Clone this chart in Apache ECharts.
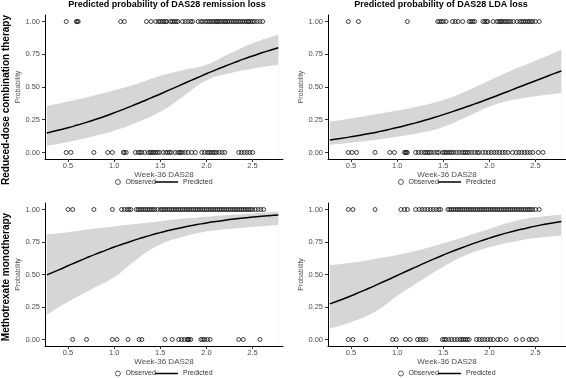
<!DOCTYPE html>
<html lang="en">
<head>
    <meta charset="UTF-8">
    <title>Predicted probability of DAS28 loss</title>
    <script src="https://cdn.jsdelivr.net/npm/echarts@6.0.0/dist/echarts.min.js"></script>
    <style>
        html, body { margin: 0; padding: 0; background: #fff; }
        #chart { width: 566px; height: 378px; }
    </style>
</head>
<body>
    <div id="chart"></div>

    <script>
        const fitX = [0.27, 0.4, 0.5, 0.6, 0.7, 0.8, 0.9, 1.0, 1.1, 1.2, 1.3, 1.4, 1.5, 1.6, 1.7, 1.8, 1.9, 2.0, 2.1, 2.2, 2.3, 2.4, 2.5, 2.6, 2.7, 2.78];
        const bandX = [0.27, 0.5, 0.75, 1.0, 1.25, 1.5, 1.75, 2.0, 2.25, 2.5, 2.78];

        // reduced-dose combination therapy, remission loss
        const remCombFit = [0.148, 0.171, 0.189, 0.209, 0.230, 0.253, 0.277, 0.303, 0.329, 0.358, 0.387, 0.417, 0.447, 0.478, 0.509, 0.540, 0.571, 0.601, 0.631, 0.659, 0.686, 0.713, 0.737, 0.761, 0.783, 0.800];
        const remCombLo = [0.05, 0.08, 0.12, 0.165, 0.23, 0.31, 0.43, 0.55, 0.605, 0.64, 0.67];
        const remCombHi = [0.356, 0.39, 0.43, 0.475, 0.525, 0.585, 0.63, 0.67, 0.755, 0.835, 0.90];
        const remCombLost = [0.48, 0.59, 0.60, 0.61, 1.07, 1.11, 1.35, 1.40, 1.45, 1.48, 1.50, 1.52, 1.54, 1.56, 1.57, 1.61, 1.63, 1.65, 1.67, 1.69, 1.74, 1.77, 1.80, 1.83, 1.85, 1.91, 1.94, 1.96, 1.99, 2.01, 2.03, 2.05, 2.07, 2.09, 2.11, 2.12, 2.14, 2.16, 2.18, 2.20, 2.21, 2.23, 2.25, 2.27, 2.29, 2.31, 2.33, 2.35, 2.37, 2.39, 2.41, 2.43, 2.45, 2.46, 2.48, 2.50, 2.52, 2.55, 2.58, 2.61];
        const remCombKept = [0.48, 0.53, 0.78, 0.93, 0.98, 1.10, 1.11, 1.13, 1.23, 1.26, 1.28, 1.30, 1.33, 1.37, 1.39, 1.40, 1.42, 1.43, 1.45, 1.47, 1.49, 1.53, 1.56, 1.58, 1.60, 1.62, 1.66, 1.69, 1.71, 1.72, 1.74, 1.77, 1.80, 1.84, 1.88, 1.95, 1.98, 2.01, 2.03, 2.05, 2.07, 2.09, 2.11, 2.14, 2.17, 2.20, 2.35, 2.38, 2.41, 2.44, 2.47, 2.50];

        // reduced-dose combination therapy, LDA loss
        const ldaCombFit = [0.096, 0.109, 0.120, 0.132, 0.145, 0.159, 0.174, 0.190, 0.208, 0.226, 0.246, 0.267, 0.289, 0.312, 0.336, 0.361, 0.386, 0.412, 0.439, 0.466, 0.494, 0.521, 0.548, 0.575, 0.602, 0.622];
        const ldaCombLo = [0.058, 0.075, 0.095, 0.12, 0.15, 0.195, 0.27, 0.35, 0.40, 0.43, 0.455];
        const ldaCombHi = [0.237, 0.26, 0.29, 0.32, 0.355, 0.40, 0.47, 0.55, 0.63, 0.70, 0.785];
        const ldaCombLost = [0.47, 0.58, 1.11, 1.44, 1.46, 1.48, 1.50, 1.53, 1.60, 1.63, 1.66, 1.71, 1.78, 1.80, 1.82, 1.84, 1.93, 1.95, 1.97, 1.98, 2.04, 2.08, 2.10, 2.12, 2.13, 2.15, 2.17, 2.19, 2.21, 2.23, 2.26, 2.30, 2.33, 2.35, 2.37, 2.39, 2.41, 2.43, 2.45, 2.47, 2.50, 2.54];
        const ldaCombKept = [0.47, 0.51, 0.56, 0.76, 0.92, 0.97, 1.08, 1.09, 1.10, 1.11, 1.20, 1.23, 1.26, 1.29, 1.31, 1.33, 1.35, 1.37, 1.40, 1.43, 1.45, 1.49, 1.51, 1.53, 1.55, 1.57, 1.59, 1.61, 1.64, 1.67, 1.70, 1.72, 1.74, 1.76, 1.78, 1.81, 1.84, 1.87, 1.89, 1.93, 1.96, 1.99, 2.02, 2.05, 2.08, 2.11, 2.14, 2.17, 2.20, 2.25, 2.29, 2.32, 2.35, 2.38, 2.41, 2.44, 2.47, 2.53, 2.58];

        // methotrexate monotherapy, remission loss
        const remMtxFit = [0.497, 0.536, 0.567, 0.598, 0.628, 0.657, 0.684, 0.711, 0.736, 0.760, 0.782, 0.803, 0.822, 0.840, 0.856, 0.871, 0.884, 0.897, 0.908, 0.918, 0.927, 0.935, 0.942, 0.949, 0.954, 0.958];
        const remMtxLo = [0.19, 0.29, 0.385, 0.48, 0.62, 0.73, 0.79, 0.83, 0.85, 0.865, 0.88];
        const remMtxHi = [0.81, 0.825, 0.85, 0.87, 0.89, 0.91, 0.93, 0.945, 0.958, 0.97, 0.985];
        const remMtxLost = [0.50, 0.55, 0.78, 0.98, 1.08, 1.11, 1.14, 1.16, 1.18, 1.24, 1.26, 1.28, 1.30, 1.32, 1.34, 1.36, 1.38, 1.40, 1.42, 1.44, 1.47, 1.50, 1.52, 1.54, 1.56, 1.58, 1.60, 1.62, 1.64, 1.66, 1.68, 1.70, 1.72, 1.74, 1.76, 1.78, 1.80, 1.82, 1.84, 1.86, 1.88, 1.90, 1.92, 1.94, 1.96, 1.98, 2.00, 2.02, 2.04, 2.06, 2.08, 2.10, 2.12, 2.14, 2.16, 2.18, 2.20, 2.22, 2.24, 2.26, 2.28, 2.30, 2.32, 2.34, 2.36, 2.38, 2.40, 2.42, 2.44, 2.46, 2.48, 2.50, 2.53, 2.56, 2.59, 2.62];
        const remMtxKept = [0.55, 0.70, 0.98, 1.03, 1.15, 1.27, 1.30, 1.55, 1.63, 1.70, 1.73, 1.76, 1.79, 1.80, 1.81, 1.83, 1.94, 1.96, 1.98, 2.01, 2.04, 2.35, 2.40, 2.58];

        // methotrexate monotherapy, LDA loss
        const ldaMtxFit = [0.274, 0.308, 0.336, 0.366, 0.396, 0.428, 0.460, 0.492, 0.525, 0.557, 0.589, 0.620, 0.650, 0.679, 0.706, 0.732, 0.757, 0.780, 0.802, 0.822, 0.840, 0.856, 0.872, 0.886, 0.898, 0.907];
        const ldaMtxLo = [0.085, 0.135, 0.21, 0.335, 0.45, 0.56, 0.65, 0.71, 0.75, 0.78, 0.80];
        const ldaMtxHi = [0.572, 0.59, 0.62, 0.65, 0.69, 0.74, 0.795, 0.85, 0.905, 0.94, 0.96];
        const ldaMtxLost = [0.47, 0.52, 0.76, 1.04, 1.08, 1.11, 1.20, 1.24, 1.27, 1.30, 1.33, 1.36, 1.39, 1.42, 1.45, 1.47, 1.55, 1.57, 1.59, 1.61, 1.63, 1.65, 1.67, 1.69, 1.71, 1.73, 1.75, 1.77, 1.79, 1.81, 1.83, 1.85, 1.87, 1.89, 1.91, 1.93, 1.95, 1.97, 1.99, 2.01, 2.03, 2.05, 2.07, 2.09, 2.11, 2.13, 2.15, 2.17, 2.19, 2.21, 2.23, 2.25, 2.27, 2.29, 2.31, 2.33, 2.35, 2.37, 2.39, 2.41, 2.43, 2.45, 2.47, 2.50, 2.54];
        const ldaMtxKept = [0.47, 0.52, 0.66, 0.95, 0.99, 1.09, 1.14, 1.22, 1.25, 1.28, 1.31, 1.49, 1.51, 1.53, 1.56, 1.59, 1.62, 1.65, 1.68, 1.70, 1.72, 1.74, 1.76, 1.78, 1.86, 1.89, 1.92, 1.95, 1.98, 2.01, 2.04, 2.09, 2.12, 2.18, 2.29, 2.36, 2.43, 2.46, 2.51];

        const xTicks = [0.5, 1.0, 1.5, 2.0, 2.5];
        const yTicks = [0, 0.25, 0.5, 0.75, 1];

        const panels = [
            { fit: remCombFit, lo: remCombLo, hi: remCombHi, lost: remCombLost, kept: remCombKept },
            { fit: ldaCombFit, lo: ldaCombLo, hi: ldaCombHi, lost: ldaCombLost, kept: ldaCombKept },
            { fit: remMtxFit, lo: remMtxLo, hi: remMtxHi, lost: remMtxLost, kept: remMtxKept },
            { fit: ldaMtxFit, lo: ldaMtxLo, hi: ldaMtxHi, lost: ldaMtxLost, kept: ldaMtxKept }
        ];

        const FONT = 'Liberation Sans, Arial, Helvetica, sans-serif';
        const grids = [
            { left: 45, top: 15, width: 238, height: 144 },
            { left: 328, top: 15, width: 238, height: 144 },
            { left: 45, top: 203, width: 238, height: 143 },
            { left: 328, top: 203, width: 238, height: 143 }
        ];

        const xAxes = grids.map((g, i) => ({
            gridIndex: i, type: 'value', min: 0.25, max: 2.83, z: 10,
            name: 'Week-36 DAS28', nameLocation: 'middle', nameGap: 10,
            nameTextStyle: { fontSize: 8, color: '#4d4d4d', fontFamily: FONT },
            axisLine: { show: true, onZero: false, lineStyle: { color: '#000', width: 1 } },
            axisTick: { show: true, length: 3, customValues: xTicks, lineStyle: { color: '#333' } },
            axisLabel: { customValues: xTicks, fontSize: 7.5, color: '#4d4d4d', margin: 3, fontFamily: FONT,
                         formatter: v => v.toFixed(1) },
            splitLine: { show: false }
        }));

        const yAxes = grids.map((g, i) => ({
            gridIndex: i, type: 'value', min: -0.05, max: 1.05, z: 10,
            name: 'Probability', nameLocation: 'middle', nameGap: 17, nameRotate: 90,
            nameTextStyle: { fontSize: 7, color: '#4d4d4d', fontFamily: FONT },
            axisLine: { show: true, onZero: false, lineStyle: { color: '#000', width: 1 } },
            axisTick: { show: true, length: 3, customValues: yTicks, lineStyle: { color: '#333' } },
            axisLabel: { customValues: yTicks, fontSize: 7.5, color: '#4d4d4d', margin: 5, fontFamily: FONT,
                         formatter: v => v.toFixed(2) },
            splitLine: { show: false }
        }));

        const series = [];
        panels.forEach((p, i) => {
            // confidence band: grey down from the upper bound, then white down from the lower bound
            series.push({
                name: 'bandHi', type: 'line', xAxisIndex: i, yAxisIndex: i, z: 1,
                smooth: true, symbol: 'none', silent: true,
                lineStyle: { width: 0, opacity: 0 },
                areaStyle: { color: '#d6d6d6', opacity: 1, origin: 'start' },
                data: bandX.map((x, k) => [x, p.hi[k]])
            });
            series.push({
                name: 'bandLo', type: 'line', xAxisIndex: i, yAxisIndex: i, z: 1,
                smooth: true, symbol: 'none', silent: true,
                lineStyle: { width: 0, opacity: 0 },
                areaStyle: { color: '#fff', opacity: 1, origin: 'start' },
                data: bandX.map((x, k) => [x, p.lo[k]])
            });
            series.push({
                name: 'Predicted', type: 'line', xAxisIndex: i, yAxisIndex: i, z: 3,
                smooth: true, symbol: 'none',
                lineStyle: { color: '#000', width: 1.5 },
                data: fitX.map((x, k) => [x, p.fit[k]])
            });
            series.push({
                name: 'Observed', type: 'scatter', xAxisIndex: i, yAxisIndex: i, z: 4,
                symbol: 'circle', symbolSize: 4,
                itemStyle: { color: 'transparent', borderColor: '#111', borderWidth: 1 },
                data: p.lost.map(x => [x, 1]).concat(p.kept.map(x => [x, 0]))
            });
        });

        // legend under each panel: circle + "Observed", line + "Predicted"
        const legends = [];
        [[115, 178.5], [398, 178.5], [115, 370], [398, 370]].forEach(([x, y]) => {
            legends.push({
                left: x, top: y, padding: 0, itemWidth: 5, itemHeight: 5, selectedMode: false,
                textStyle: { fontSize: 7, color: '#333', fontFamily: FONT },
                data: [{ name: 'Observed', icon: 'circle',
                         itemStyle: { color: 'transparent', borderColor: '#222', borderWidth: 0.9 } }]
            });
            legends.push({
                left: x + 40, top: y, padding: 0, itemWidth: 23, itemHeight: 1.5, selectedMode: false,
                textStyle: { fontSize: 7, color: '#333', fontFamily: FONT },
                data: [{ name: 'Predicted', icon: 'rect', itemStyle: { color: '#000' } }]
            });
        });

        const chart = echarts.init(document.getElementById('chart'));
        chart.setOption({
            animation: false,
            textStyle: { fontFamily: FONT },
            grid: grids,
            xAxis: xAxes,
            yAxis: yAxes,
            legend: legends,
            series: series,
            graphic: [
                { type: 'text', x: 167, y: 5,
                  style: { text: 'Predicted probability of DAS28 remission loss', align: 'center', verticalAlign: 'middle',
                           font: 'bold 9px ' + FONT, fill: '#000' } },
                { type: 'text', x: 441, y: 5,
                  style: { text: 'Predicted probability of DAS28 LDA loss', align: 'center', verticalAlign: 'middle',
                           font: 'bold 9px ' + FONT, fill: '#000' } },
                { type: 'text', x: 6, y: 100, rotation: Math.PI / 2,
                  style: { text: 'Reduced-dose combination therapy', align: 'center', verticalAlign: 'middle',
                           font: 'bold 10px ' + FONT, fill: '#000' } },
                { type: 'text', x: 6, y: 277, rotation: Math.PI / 2,
                  style: { text: 'Methotrexate monotherapy', align: 'center', verticalAlign: 'middle',
                           font: 'bold 10px ' + FONT, fill: '#000' } }
            ]
        });
    </script>
</body>
</html>
